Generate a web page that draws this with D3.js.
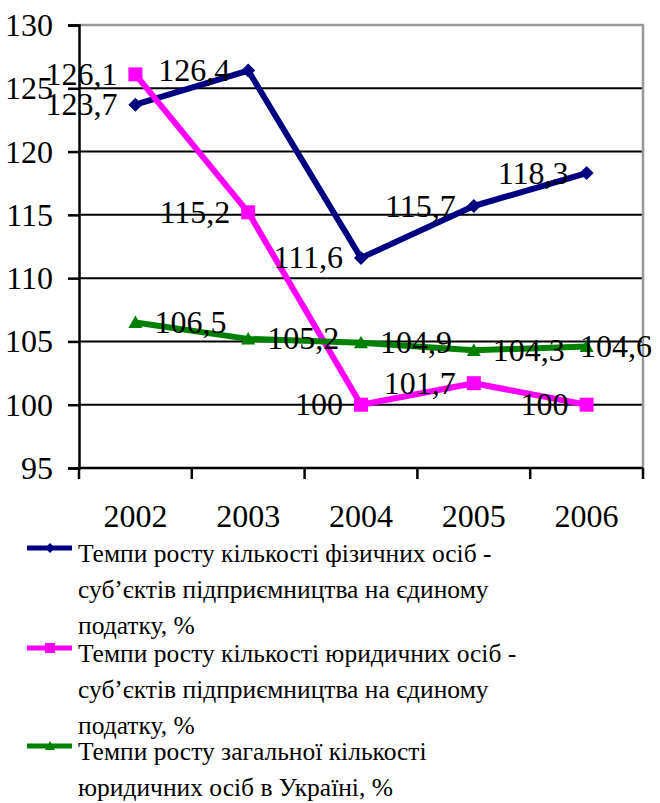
<!DOCTYPE html>
<html lang="uk">
<meta charset="utf-8">
<style>
  body { margin: 0; background: #fff; }
  svg text { font-family: "Liberation Serif", Tinos, "Times New Roman", Times, "DejaVu Serif", serif; fill: #000; }
</style>
<body>
<svg width="660" height="803"></svg>
<script src="https://cdn.jsdelivr.net/npm/d3@7"></script>
<script>
// дані
let years = ['2002', '2003', '2004', '2005', '2006']
let fizOsoby = [123.7, 126.4, 111.6, 115.7, 118.3]
let yurOsoby = [126.1, 115.2, 100, 101.7, 100]
let zagalna = [106.5, 105.2, 104.9, 104.3, 104.6]
let yTicks = [95, 100, 105, 110, 115, 120, 125, 130]
let legendLines = [
  ['Темпи росту кількості фізичних осіб -', 'суб’єктів підприємництва на єдиному', 'податку, %'],
  ['Темпи росту кількості юридичних осіб -', 'суб’єктів підприємництва на єдиному', 'податку, %'],
  ['Темпи росту загальної кількості', 'юридичних осіб в Україні, %']
]

let series = [
  { values: fizOsoby, color: '#000080', marker: 'diamond', label: 'left' },
  { values: yurOsoby, color: '#ff00ff', marker: 'square', label: 'left' },
  { values: zagalna, color: '#008000', marker: 'triangle', label: 'right' }
]

let FONT = '"Liberation Serif", Tinos, "Times New Roman", Times, "DejaVu Serif", serif'

let svg = d3.select('svg').attr('font-family', FONT)
let mLeft = 79, mRight = 643, mTop = 25, mBottom = 468

let x = d3.scaleBand().domain(years).range([mLeft, mRight])
let y = d3.scaleLinear().domain([95, 130]).range([mBottom, mTop])

// сітка
svg.append('g').selectAll('line')
   .data(yTicks.filter(d => d > 95 && d < 130)).enter()
   .append('line')
   .attr('x1', mLeft).attr('x2', mRight)
   .attr('y1', d => y(d)).attr('y2', d => y(d))
   .attr('stroke', '#000').attr('stroke-width', 2)

// рамка (сіра)
svg.append('path')
   .attr('d', `M${mLeft},${y(130)}H${mRight}V${mBottom}`)
   .attr('fill', 'none').attr('stroke', '#999').attr('stroke-width', 2.5)

// вісь Y
let yAxis = svg.append('g')
   .attr('transform', `translate(${mLeft},0)`)
   .call(d3.axisLeft(y).tickValues(yTicks).tickSize(11).tickPadding(15).tickFormat(d3.format('d')))
   .attr('font-family', FONT).attr('font-size', 32)
yAxis.select('.domain').attr('stroke', '#000').attr('stroke-width', 2.5)
yAxis.selectAll('.tick line').attr('stroke', '#000').attr('stroke-width', 2.5)
yAxis.selectAll('.tick text').attr('dy', '0.33em')

// вісь X
let xAxis = svg.append('g')
   .attr('transform', `translate(0,${mBottom})`)
xAxis.append('line')
   .attr('x1', mLeft).attr('x2', mRight)
   .attr('stroke', '#000').attr('stroke-width', 2.5)
xAxis.selectAll('line.tk')
   .data(years.map(d => x(d)).concat([mRight])).enter()
   .append('line').attr('class', 'tk')
   .attr('x1', d => d).attr('x2', d => d)
   .attr('y1', 0).attr('y2', 11)
   .attr('stroke', '#000').attr('stroke-width', 2.5)
xAxis.selectAll('text')
   .data(years).enter()
   .append('text')
   .attr('x', d => x(d) + x.bandwidth() / 2)
   .attr('y', 59)
   .attr('text-anchor', 'middle')
   .attr('font-size', 32)
   .text(d => d)

let cx = d => x(d) + x.bandwidth() / 2

function marker(g, type, s) {
  if (type === 'diamond') return g.append('path').attr('d', `M0,${-s}L${s},0L0,${s}L${-s},0Z`)
  if (type === 'square') return g.append('rect').attr('x', -s).attr('y', -s).attr('width', 2 * s).attr('height', 2 * s)
  return g.append('path').attr('d', `M0,${-s}L${s},${s * 0.8}L${-s},${s * 0.8}Z`)
}

let line = d3.line().x((d, i) => cx(years[i])).y(d => y(d))

// лінії та маркери
series.forEach(s => {
  svg.append('path')
     .attr('d', line(s.values))
     .attr('fill', 'none')
     .attr('stroke', s.color)
     .attr('stroke-width', 6)
     .attr('stroke-linejoin', 'round')
  s.values.forEach((v, i) => {
    let g = svg.append('g').attr('transform', `translate(${cx(years[i])},${y(v)})`)
    marker(g, s.marker, 7).attr('fill', s.color)
  })
})

// підписи значень
series.forEach(s => {
  s.values.forEach((v, i) => {
    let px = cx(years[i])
    let t = svg.append('text')
       .attr('y', y(v))
       .attr('dy', '0.33em')
       .attr('font-size', 32)
       .text(String(v).replace('.', ','))
    if (s.label === 'left') {
      t.attr('x', px - 18).attr('text-anchor', 'end')
    } else {
      let w = t.node().getComputedTextLength()
      t.attr('x', Math.min(px + 19, 652 - w))
    }
  })
})

// легенда
let legendTop = [562, 662, 760]
legendLines.forEach((lines, k) => {
  let s = series[k]
  let g = svg.append('g')
  g.append('line')
   .attr('x1', 27).attr('x2', 72)
   .attr('y1', legendTop[k] - 14).attr('y2', legendTop[k] - 14)
   .attr('stroke', s.color).attr('stroke-width', 5)
  let m = g.append('g').attr('transform', `translate(50,${legendTop[k] - 14})`)
  marker(m, s.marker, 5).attr('fill', s.color)
  g.selectAll('text')
   .data(lines).enter()
   .append('text')
   .attr('x', 78)
   .attr('y', (d, i) => legendTop[k] + i * 36)
   .attr('font-size', 25.5)
   .text(d => d)
})
</script>
</body>
</html>
